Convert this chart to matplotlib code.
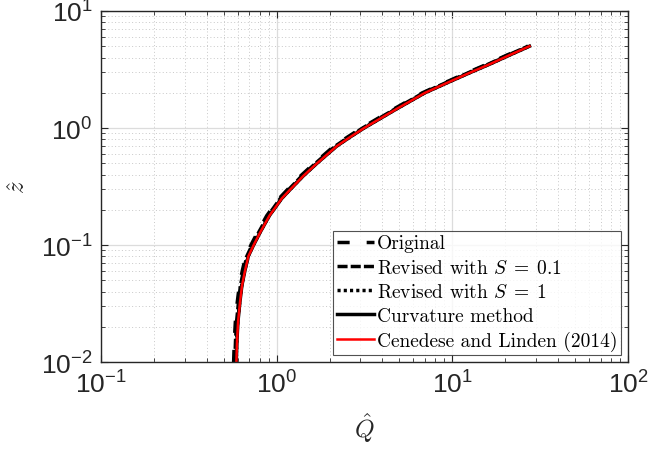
import matplotlib
matplotlib.use("Agg")
import matplotlib.pyplot as plt
from matplotlib.ticker import LogLocator, LogFormatterMathtext, NullFormatter

plt.rcParams['font.family'] = ['Liberation Sans', 'DejaVu Sans']
plt.rcParams['mathtext.fontset'] = 'cm'

# non-dimensional height and flux along each solution
z_hat = [0.01, 0.015, 0.022, 0.032, 0.045, 0.06, 0.08, 0.1, 0.13, 0.178, 0.25, 0.3,
         0.39, 0.5, 0.7, 0.83, 1.0, 1.45, 2.0, 2.46, 3.0, 3.52, 4.2, 5.0]
Q_original = [0.569, 0.574, 0.582, 0.596, 0.613, 0.637, 0.666, 0.714, 0.782, 0.878, 1.033, 1.158,
              1.37, 1.64, 2.12, 2.51, 3.04, 4.63, 6.76, 9.17, 12.35, 15.83, 20.46, 26.9]
Q_rev_s01 = [0.578, 0.583, 0.591, 0.606, 0.622, 0.647, 0.676, 0.725, 0.794, 0.892, 1.049, 1.176,
             1.392, 1.666, 2.156, 2.548, 3.087, 4.704, 6.86, 9.31, 12.54, 16.07, 20.78, 27.0]
Q_rev_s1 = [0.587, 0.592, 0.600, 0.615, 0.632, 0.657, 0.687, 0.736, 0.806, 0.905, 1.065, 1.194,
            1.413, 1.692, 2.189, 2.587, 3.134, 4.776, 6.97, 9.45, 12.74, 16.32, 21.1, 27.4]
Q_curvature = [0.589, 0.594, 0.602, 0.617, 0.634, 0.659, 0.689, 0.739, 0.809, 0.909, 1.069, 1.199,
               1.419, 1.698, 2.198, 2.597, 3.147, 4.795, 6.99, 9.49, 12.79, 16.38, 21.2, 27.5]
Q_cl2014 = [0.590, 0.595, 0.603, 0.618, 0.635, 0.660, 0.690, 0.740, 0.810, 0.910, 1.070, 1.200,
            1.420, 1.700, 2.200, 2.600, 3.150, 4.800, 7.00, 9.50, 12.80, 16.40, 21.2, 27.5]

labels = ['Original', r'Revised with $S\;=\;0.1$', r'Revised with $S\;=\;1$',
          'Curvature method', 'Cenedese and Linden (2014)']

fig = plt.figure(figsize=(6.49, 4.56), dpi=100)
ax = fig.add_axes([0.1556, 0.2039, 0.812, 0.7698])

ax.plot(Q_original, z_hat, color='k', lw=2.5, dashes=(3.5, 4.9), label=labels[0])
ax.plot(Q_rev_s01, z_hat, color='k', lw=2.5, dashes=(2.9, 0.9), label=labels[1])
ax.plot(Q_rev_s1, z_hat, color='k', lw=2.5, dashes=(0.9, 0.9), label=labels[2])
ax.plot(Q_curvature, z_hat, color='k', lw=2.5, label=labels[3])
ax.plot(Q_cl2014, z_hat, color='red', lw=1.8, label=labels[4])

ax.set_xscale('log')
ax.set_yscale('log')
ax.set_xlim(0.1, 100)
ax.set_ylim(0.01, 10)

for axis in (ax.xaxis, ax.yaxis):
    axis.set_major_locator(LogLocator(base=10, numticks=10))
    axis.set_minor_locator(LogLocator(base=10, subs=range(2, 10), numticks=20))
    axis.set_major_formatter(LogFormatterMathtext())
    axis.set_minor_formatter(NullFormatter())

ax.grid(True, which='major', color='#dcdcdc', lw=0.9, ls='-')
ax.grid(True, which='minor', color='#c8c8c8', lw=0.7, ls=(0, (1, 2.5)))
ax.set_axisbelow(True)

ax.tick_params(which='both', direction='in', top=True, right=True,
               colors='#262626', labelsize=19, pad=6)
ax.tick_params(which='major', length=5, width=0.8)
ax.tick_params(which='minor', length=3, width=0.6)
for sp in ax.spines.values():
    sp.set_color('#262626')
    sp.set_linewidth(1.0)

ax.set_xlabel(r'$\hat{Q}$', fontsize=18, labelpad=9, color='#262626')
ax.set_ylabel(r'$\hat{z}$', fontsize=18, labelpad=8, color='#262626')

leg = ax.legend(loc='lower right', prop={'family': 'cmr10', 'size': 14},
                frameon=True, fancybox=False, edgecolor='#262626',
                handlelength=1.9, handletextpad=0.15, labelspacing=0.32,
                borderpad=0.2, borderaxespad=0.35)
leg.get_frame().set_linewidth(0.8)

fig.savefig('out.png', dpi=100)
